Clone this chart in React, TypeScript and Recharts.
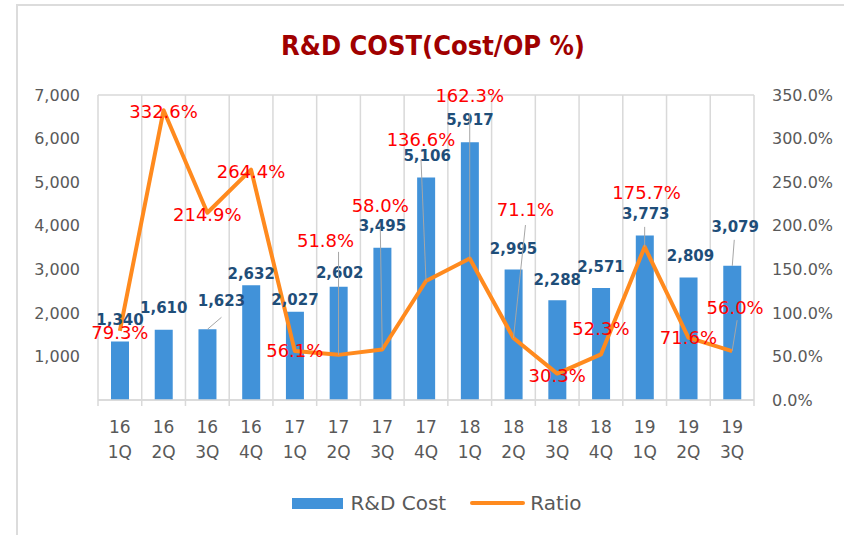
import React from 'react';
import { ComposedChart, Bar, Line, XAxis, YAxis, CartesianGrid, LabelList, Legend } from 'recharts';

const years = ['16', '16', '16', '16', '17', '17', '17', '17', '18', '18', '18', '18', '19', '19', '19'];
const quarters = ['1Q', '2Q', '3Q', '4Q', '1Q', '2Q', '3Q', '4Q', '1Q', '2Q', '3Q', '4Q', '1Q', '2Q', '3Q'];
const rdCost = [1340, 1610, 1623, 2632, 2027, 2602, 3495, 5106, 5917, 2995, 2288, 2571, 3773, 2809, 3079];
const ratio = [79.3, 332.6, 214.9, 264.4, 56.1, 51.8, 58.0, 136.6, 162.3, 71.1, 30.3, 52.3, 175.7, 71.6, 56.0];
const leftTicks = [0, 1000, 2000, 3000, 4000, 5000, 6000, 7000];
const rightTicks = [0, 50, 100, 150, 200, 250, 300, 350];

const data = years.map((y, i) => ({ name: y + ' ' + quarters[i], year: y, q: quarters[i], cost: rdCost[i], ratio: ratio[i] }));

const W = 844;
const H = 535;
const N = years.length;
const FONT = '"DejaVu Sans", sans-serif';
const GRID = '#d9d9d9';
const BAR = '#4192d9';
const ORANGE = '#ff8a1e';
const LEADER = '#a6a6a6';

// label placement styles (dx, dy from anchor) and leader line ends
const barLabelPos: number[][] = [[0, -22], [0, -22], [14, -29], [0, -12], [0, -12], [1, -14], [0, -22], [1, -22], [0, -22], [0, -21], [0, -21], [0, -21], [1, -22], [2, -22], [3, -39]];
const barLeader: (number[] | null)[] = [null, null, [14, -12], null, null, null, null, null, null, null, null, null, null, null, [2, -26]];
const ratioLabelPos: number[][] = [[0, 2], [0, 2], [0, 2], [0, 2], [0, 0], [-13, -114], [-2, -144], [-5, -141], [0, -163], [12, -128], [0, 2], [0, -26], [2, -54], [0, 0], [3, -44]];
const ratioLeader: (number[] | null)[] = [null, null, null, null, null, [0, -103], [-2, -122], [-5, -121], [0, -145], [12, -113], null, null, [0, -20], null, [5, -31]];

const BarLabel = (props: any) => {
  const { x, y, width, value, index } = props;
  const cx = Number(x) + Number(width) / 2;
  const top = Number(y);
  const [dx, dy] = barLabelPos[index] || [0, -22];
  const ld = barLeader[index];
  return (
    <g>
      {ld && <line x1={cx} y1={top} x2={cx + ld[0]} y2={top + ld[1]} stroke={LEADER} strokeWidth={1} />}
      <text x={cx + dx} y={top + dy} dy="0.35em" textAnchor="middle" fill="#1f4e79" fontFamily={FONT} fontWeight="bold" fontSize={15}>
        {Number(value).toLocaleString('en-US')}
      </text>
    </g>
  );
};

const RatioLabel = (props: any) => {
  const { x, y, value, index } = props;
  const px = Number(x);
  const py = Number(y);
  const [dx, dy] = ratioLabelPos[index] || [0, 0];
  const ld = ratioLeader[index];
  return (
    <g>
      {ld && <line x1={px} y1={py} x2={px + ld[0]} y2={py + ld[1]} stroke={LEADER} strokeWidth={1} />}
      <text x={px + dx} y={py + dy} dy="0.35em" textAnchor="middle" fill="#ff0000" fontFamily={FONT} fontSize={18}>
        {Number(value).toFixed(1) + '%'}
      </text>
    </g>
  );
};

const XTick = (props: any) => {
  const { x, y, payload, index } = props;
  const i = payload.index ?? index;
  const d = data[i];
  const band = 656 / N;
  return (
    <g>
      <line x1={x - band / 2} y1={y} x2={x - band / 2} y2={y + 6} stroke={GRID} strokeWidth={1.5} />
      {i === N - 1 && <line x1={x + band / 2} y1={y} x2={x + band / 2} y2={y + 6} stroke={GRID} strokeWidth={1.5} />}
      <text x={x} y={y + 27} dy="0.35em" textAnchor="middle" fill="#595959" fontFamily={FONT} fontSize={17}>{d ? d.year : ''}</text>
      <text x={x} y={y + 52} dy="0.35em" textAnchor="middle" fill="#595959" fontFamily={FONT} fontSize={17}>{d ? d.q : ''}</text>
    </g>
  );
};

const LegendContent = () => (
  <div style={{ display: 'flex', justifyContent: 'center', alignItems: 'center', width: W, height: 26, fontFamily: FONT, fontSize: 20, color: '#595959', paddingLeft: 30, boxSizing: 'border-box' }}>
    <span style={{ display: 'inline-block', width: 51, height: 11, background: BAR, marginRight: 7 }} />
    <span style={{ marginRight: 24 }}>R&amp;D Cost</span>
    <span style={{ display: 'inline-block', width: 55, height: 4, borderRadius: 2, background: ORANGE, marginRight: 5 }} />
    <span>Ratio</span>
  </div>
);

export default function App() {
  return (
    <div style={{ position: 'absolute', left: 0, top: 0, width: W, height: H, background: '#fff', overflow: 'hidden' }}>
      <div style={{ position: 'absolute', left: 16, top: 4, width: W, height: H, borderTop: '2px solid #dcdcdc', borderLeft: '2px solid #dcdcdc' }} />
      <div style={{ position: 'absolute', left: 0, top: 28, width: 866, textAlign: 'center', fontFamily: '"DejaVu Sans Condensed", "DejaVu Sans", sans-serif', fontWeight: 'bold', fontSize: 27, color: '#a00000', lineHeight: '36px' }}>
        R&amp;D COST(Cost/OP %)
      </div>
      <div style={{ position: 'absolute', left: 0, top: 0 }}>
        <ComposedChart width={W} height={H} data={data} margin={{ top: 95, right: 0, bottom: 49, left: 0 }}>
          <CartesianGrid
            stroke={GRID}
            strokeWidth={1.5}
            vertical={true}
            horizontal={true}
            verticalCoordinatesGenerator={(p: any) => {
              const o = p.offset;
              return Array.from({ length: N + 1 }, (_, i) => o.left + (i * o.width) / N);
            }}
          />
          <XAxis
            dataKey="name"
            xAxisId={0}
            interval={0}
            tickSize={0}
            tickMargin={0}
            height={60}
            axisLine={{ stroke: GRID, strokeWidth: 1.5 }}
            tickLine={false}
            tick={<XTick />}
          />
          <YAxis
            yAxisId="left"
            orientation="left"
            width={98}
            domain={[0, 7000]}
            ticks={leftTicks}
            interval={0}
            axisLine={false}
            tickLine={false}
            tickSize={0}
            tickMargin={18}
            tick={{ fill: '#595959', fontFamily: FONT, fontSize: 16 }}
            tickFormatter={(v: number) => (v === 0 ? '' : v.toLocaleString('en-US'))}
          />
          <YAxis
            yAxisId="right"
            orientation="right"
            width={90}
            domain={[0, 350]}
            ticks={rightTicks}
            interval={0}
            axisLine={false}
            tickLine={false}
            tickSize={0}
            tickMargin={18}
            tick={{ fill: '#595959', fontFamily: FONT, fontSize: 16, textAnchor: 'start' }}
            tickFormatter={(v: number) => v.toFixed(1) + '%'}
          />
          <Bar yAxisId="left" dataKey="cost" name="R&D Cost" fill={BAR} barSize={18} isAnimationActive={false}>
            <LabelList dataKey="cost" content={<BarLabel />} />
          </Bar>
          <Line yAxisId="right" dataKey="ratio" name="Ratio" type="linear" stroke={ORANGE} strokeWidth={4} dot={false} activeDot={false} strokeLinejoin="round" isAnimationActive={false}>
            <LabelList dataKey="ratio" content={<RatioLabel />} />
          </Line>
          <Legend
            layout="vertical"
            align="center"
            verticalAlign="bottom"
            wrapperStyle={{ position: 'absolute', left: 0, top: 490, bottom: 'auto', width: W, height: 26 }}
            content={<LegendContent />}
          />
        </ComposedChart>
      </div>
    </div>
  );
}
